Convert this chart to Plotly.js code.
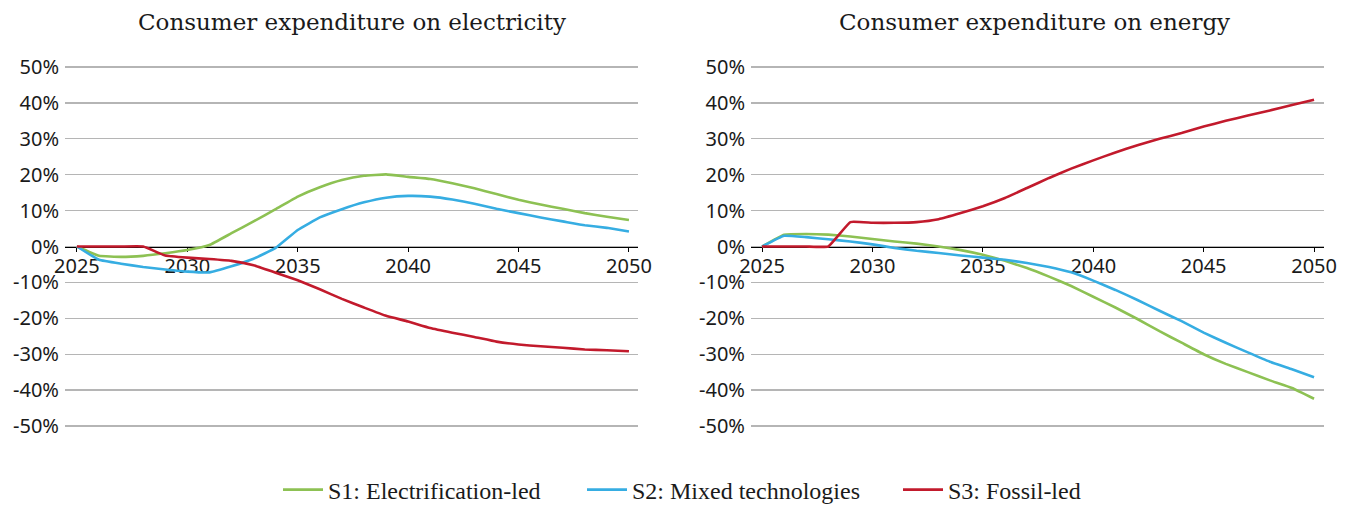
<!DOCTYPE html>
<html>
<head>
<meta charset="utf-8">
<script src="https://cdn.plot.ly/plotly-3.0.1.min.js"></script>
<style>html,body{margin:0;padding:0;background:#fff;} #chart{width:1354px;height:505px;}</style>
</head>
<body>
<div id="chart"></div>
<script>
const years = [2025,2026,2027,2028,2029,2030,2031,2032,2033,2034,2035,2036,2037,2038,2039,2040,2041,2042,2043,2044,2045,2046,2047,2048,2049,2050];
const seriesNames = ["S1: Electrification-led", "S2: Mixed technologies", "S3: Fossil-led"];
const chartTitles = ["Consumer expenditure on electricity", "Consumer expenditure on energy"];
const xTicks = [2025,2030,2035,2040,2045,2050];
const yTicks = [-50,-40,-30,-20,-10,0,10,20,30,40,50];

// Electricity (%)
const elecS1 = [0,-2.6,-2.9,-2.6,-1.9,-1.0,0.4,3.7,7.0,10.4,13.9,16.5,18.5,19.7,20.1,19.4,18.8,17.6,16.2,14.6,13.0,11.7,10.5,9.3,8.3,7.4];
const elecS2 = [0,-3.7,-4.8,-5.7,-6.4,-7.0,-7.2,-5.5,-3.4,-0.4,4.6,8.1,10.4,12.3,13.6,14.1,13.9,13.1,11.9,10.5,9.3,8.1,7.0,5.9,5.2,4.2];
const elecS3 = [0,0,0,0,-2.5,-3.1,-3.5,-4.0,-5.2,-7.3,-9.4,-11.9,-14.6,-17.0,-19.3,-20.9,-22.7,-24.0,-25.2,-26.5,-27.3,-27.8,-28.2,-28.7,-28.9,-29.2];

// Energy (%)
const enS1 = [0,3.3,3.5,3.3,2.8,2.1,1.4,0.8,0.0,-1.0,-2.3,-4.0,-6.0,-8.4,-11.0,-14.0,-17.0,-20.2,-23.6,-26.8,-30.0,-32.7,-35.0,-37.3,-39.4,-42.4];
const enS2 = [0,3.0,2.6,2.0,1.4,0.6,-0.4,-1.2,-1.8,-2.5,-3.1,-3.7,-4.6,-5.7,-7.2,-9.5,-12.1,-14.9,-17.9,-20.8,-24.0,-26.8,-29.5,-32.1,-34.2,-36.4];
const enS3 = [0,0,0,0,6.8,6.6,6.6,6.8,7.6,9.3,11.2,13.5,16.3,19.1,21.7,24.0,26.2,28.2,30.0,31.6,33.4,35.0,36.5,37.9,39.4,40.9];

const colors = ["#8dc153", "#36ade2", "#c21a2c"];
const legendIds = ["legend", "legend2", "legend3"];

const traces = [];
[[elecS1,elecS2,elecS3],[enS1,enS2,enS3]].forEach((set, ci) => {
  set.forEach((vals, si) => {
    traces.push({
      x: years, y: vals, type: "scatter", mode: "lines",
      name: seriesNames[si], showlegend: ci === 0, legend: legendIds[si],
      line: {color: colors[si], width: 2.6, shape: "spline", smoothing: 0.3},
      xaxis: ci === 0 ? "x" : "x2", yaxis: ci === 0 ? "y" : "y2",
      hoverinfo: "skip"
    });
  });
});

const W = 1354, H = 505;
const pxPer = 3.59;           // px per 1%
const pad = 0.4;              // range padding (%)
const yTop = 67 - pad * pxPer, yBot = 426 + pad * pxPer;
const yDom = [1 - yBot / H, 1 - yTop / H];
const tickFont = {family: "Noto Sans, Liberation Sans, sans-serif", size: 20, color: "#1a1a1a"};
const legFont = {family: "Liberation Serif, DejaVu Serif, serif", size: 24, color: "#1a1a1a"};

function xAx(domain, range) {
  return {
    domain: domain, range: range, anchor: "free",
    position: (yDom[0] + yDom[1]) / 2,
    tickvals: xTicks, ticktext: xTicks.map(String),
    showgrid: false, zeroline: false,
    showline: true, linecolor: "#000000", linewidth: 1.2,
    ticks: "outside", ticklen: 4, tickcolor: "#000000", tickwidth: 1,
    ticklabelstandoff: -3,
    tickfont: tickFont, layer: "below traces", automargin: false, fixedrange: true
  };
}
function yAx(anchor) {
  return {
    domain: yDom, range: [-50 - pad, 50 + pad], anchor: anchor,
    tickvals: yTicks, ticktext: yTicks.map(v => v + "%"),
    showgrid: true, gridcolor: "#b5b5b5", gridwidth: 1.3,
    zeroline: false, showline: false, ticks: "",
    ticklabelstandoff: 5,
    tickfont: tickFont, automargin: false, fixedrange: true
  };
}
function leg(xpx) {
  return {
    orientation: "h", x: xpx / W, xanchor: "left",
    y: 1 - 490 / H, yanchor: "middle",
    font: legFont, itemwidth: 40, bgcolor: "rgba(0,0,0,0)", borderwidth: 0
  };
}

const layout = {
  width: W, height: H,
  margin: {l: 0, r: 0, t: 0, b: 0, autoexpand: false},
  paper_bgcolor: "#ffffff", plot_bgcolor: "#ffffff",
  showlegend: true,
  legend: leg(278),
  legend2: leg(582),
  legend3: leg(898),
  xaxis: xAx([65 / W, 638 / W], [2024.46, 2050.41]),
  yaxis: yAx("x"),
  xaxis2: xAx([751 / W, 1324 / W], [2024.5, 2050.45]),
  yaxis2: yAx("x2"),
  annotations: [
    {text: chartTitles[0], x: 352 / W, y: 1 - 22 / H, xref: "paper", yref: "paper",
     xanchor: "center", yanchor: "middle", showarrow: false,
     font: {family: "DejaVu Serif, serif", size: 23, color: "#1a1a1a"}},
    {text: chartTitles[1], x: 1034 / W, y: 1 - 22 / H, xref: "paper", yref: "paper",
     xanchor: "center", yanchor: "middle", showarrow: false,
     font: {family: "DejaVu Serif, serif", size: 23, color: "#1a1a1a"}}
  ],
  shapes: [
    {type: "line", xref: "x domain", yref: "y", x0: 0, x1: 1, y0: 0, y1: 0, line: {color: "#000", width: 1.2}, layer: "below"},
    {type: "line", xref: "x2 domain", yref: "y2", x0: 0, x1: 1, y0: 0, y1: 0, line: {color: "#000", width: 1.2}, layer: "below"}
  ]
};

Plotly.newPlot("chart", traces, layout, {staticPlot: true, displayModeBar: false});
</script>
</body>
</html>
